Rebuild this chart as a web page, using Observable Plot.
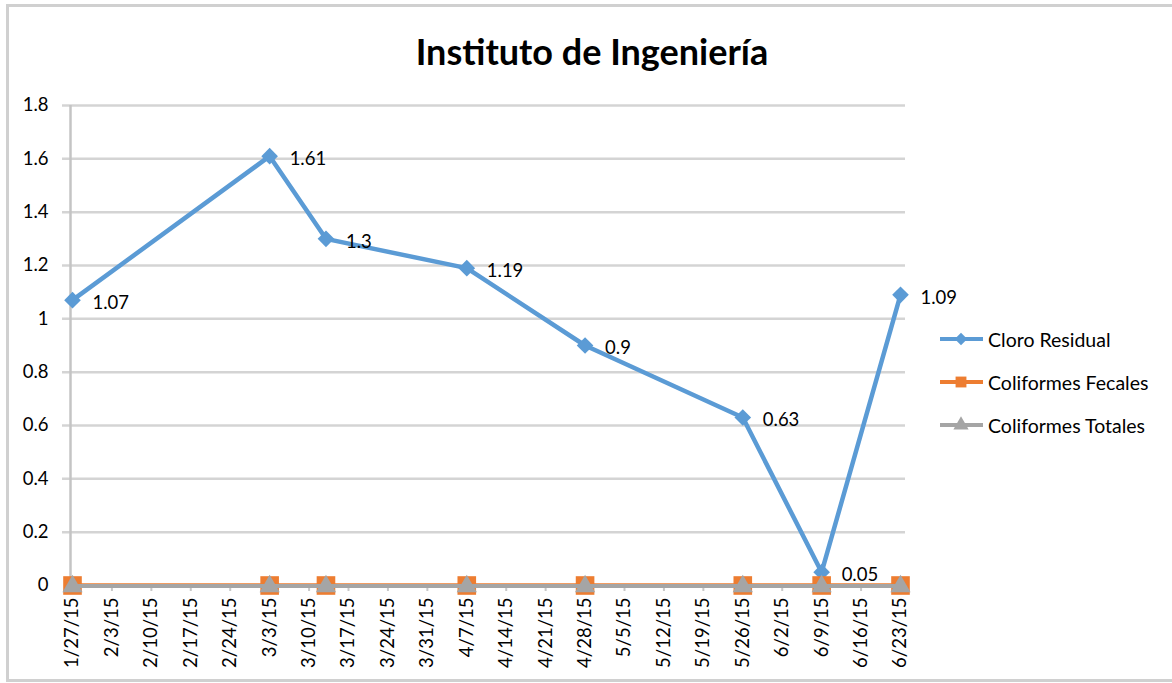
<!DOCTYPE html>
<html>
<head>
<meta charset="utf-8">
<script src="https://cdn.jsdelivr.net/npm/d3@7"></script>
<script src="https://cdn.jsdelivr.net/npm/@observablehq/plot@0.6"></script>
<style>
  html, body { margin: 0; padding: 0; background: #fff; }
  body { font-family: Lato, "DejaVu Sans", sans-serif; }
  #wrap { position: relative; width: 1172px; height: 683px; overflow: hidden; }
  #frame { position: absolute; left: 6px; top: 4px; width: 1180px; height: 678px; border: 3px solid #d0d0d0; box-sizing: border-box; }
  #title { position: absolute; left: 0; width: 1184px; top: 29px; text-align: center; font-weight: 700; font-size: 36px; color: #000; }
  #chart { position: absolute; left: 0; top: 0; }
  #legend { position: absolute; left: 938px; top: 0; }
  .item { position: absolute; left: 0; height: 24px; display: flex; align-items: center; white-space: nowrap; font-size: 19.5px; color: #000; }
  .item svg { margin-right: 4px; }
</style>
</head>
<body>
<div id="wrap">
  <div id="frame"></div>
  <div id="chart"></div>
  <div id="title">Instituto de Ingeniería</div>
  <div id="legend"></div>
</div>
<script>
// ---- Data ----
const dates = ["2015-01-27", "2015-03-03", "2015-03-13", "2015-04-07", "2015-04-28", "2015-05-26", "2015-06-09", "2015-06-23"];
const cloroResidual = [1.07, 1.61, 1.3, 1.19, 0.9, 0.63, 0.05, 1.09];
const coliformesFecales = [0, 0, 0, 0, 0, 0, 0, 0];
const coliformesTotales = [0, 0, 0, 0, 0, 0, 0, 0];
const seriesNames = ["Cloro Residual", "Coliformes Fecales", "Coliformes Totales"];
const xTickLabels = ["1/27/15", "2/3/15", "2/10/15", "2/17/15", "2/24/15", "3/3/15", "3/10/15", "3/17/15", "3/24/15", "3/31/15", "4/7/15", "4/14/15", "4/21/15", "4/28/15", "5/5/15", "5/12/15", "5/19/15", "5/26/15", "6/2/15", "6/9/15", "6/16/15", "6/23/15"];
const yTicks = [0, 0.2, 0.4, 0.6, 0.8, 1, 1.2, 1.4, 1.6, 1.8];

// ---- Build tables ----
const parseLabel = s => { const [m, d, y] = s.split("/").map(Number); return new Date(Date.UTC(2000 + y, m - 1, d)); };
const xTicks = xTickLabels.map(parseLabel);
const labelOf = new Map(xTicks.map((d, i) => [+d, xTickLabels[i]]));
const toDate = s => new Date(s + "T00:00:00Z");
const cloro = dates.map((d, i) => ({date: toDate(d), value: cloroResidual[i]}));
const fecales = dates.map((d, i) => ({date: toDate(d), value: coliformesFecales[i]}));
const totales = dates.map((d, i) => ({date: toDate(d), value: coliformesTotales[i]}));

const colors = ["#5B9BD5", "#ED7D31", "#A5A5A5"];
const FS = 18.5;

const chart = Plot.plot({
  width: 1172,
  height: 683,
  marginLeft: 72,
  marginRight: 272,
  marginTop: 105,
  marginBottom: 98,
  style: {fontFamily: "Lato, 'DejaVu Sans', sans-serif", fontSize: FS + "px", color: "#000", background: "transparent"},
  x: {type: "utc", domain: [xTicks[0], xTicks[xTicks.length - 1]]},
  y: {domain: [0, 1.8]},
  marks: [
    Plot.ruleY(yTicks.filter(d => d > 0), {stroke: "#d4d4d4", strokeWidth: 2.5, insetLeft: -10, insetRight: -5}),
    Plot.ruleX([xTicks[0]], {stroke: "#c4c4c4", strokeWidth: 2.5, dx: -2}),
    Plot.axisY({ticks: yTicks, tickSize: 0, tickPadding: 24, tickFormat: d => String(+d.toFixed(1)), fontSize: FS, label: null}),
    Plot.axisX({ticks: xTicks, tickFormat: d => labelOf.get(+d), tickRotate: -90, tickSize: 6, tickPadding: 6, stroke: "#c8c8c8", strokeWidth: 2, fontSize: FS, label: null}),
    // Cloro Residual
    Plot.line(cloro, {x: "date", y: "value", stroke: colors[0], strokeWidth: 4.5, strokeLinejoin: "round"}),
    Plot.dot(cloro, {x: "date", y: "value", symbol: "diamond2", r: 7.5, fill: colors[0], stroke: "none"}),
    Plot.text(cloro, {x: "date", y: "value", text: d => String(d.value), textAnchor: "start", dx: 20, dy: 3, fontSize: FS, fill: "#000"}),
    // Coliformes Fecales
    Plot.line(fecales, {x: "date", y: "value", stroke: colors[1], strokeWidth: 3, dy: -0.8}),
    Plot.dot(fecales, {x: "date", y: "value", symbol: "square", r: 10.5, fill: colors[1], stroke: "none"}),
    // Coliformes Totales
    Plot.line(totales, {x: "date", y: "value", stroke: colors[2], strokeWidth: 4, dy: 0.5}),
    Plot.dot(totales, {x: "date", y: "value", symbol: "triangle", r: 7.5, fill: colors[2], stroke: "none", dy: 1})
  ]
});
document.getElementById("chart").appendChild(chart);

// ---- Legend ----
const legend = document.getElementById("legend");
const legendTops = [327, 370, 413];
const legendSymbols = [d3.symbolDiamond2, d3.symbolSquare2, d3.symbolTriangle];
const legendSizes = [100, 150, 100];
seriesNames.forEach((name, i) => {
  const item = document.createElement("div");
  item.className = "item";
  item.style.top = legendTops[i] + "px";
  const s = d3.create("svg").attr("width", 46).attr("height", 24);
  s.append("line").attr("x1", 2).attr("x2", 45).attr("y1", 12).attr("y2", 12).attr("stroke", colors[i]).attr("stroke-width", 4);
  s.append("path").attr("d", d3.symbol(legendSymbols[i], legendSizes[i])())
    .attr("transform", "translate(23,12)").attr("fill", colors[i]);
  item.appendChild(s.node());
  const t = document.createElement("span");
  t.textContent = name;
  item.appendChild(t);
  legend.appendChild(item);
});
</script>
</body>
</html>
